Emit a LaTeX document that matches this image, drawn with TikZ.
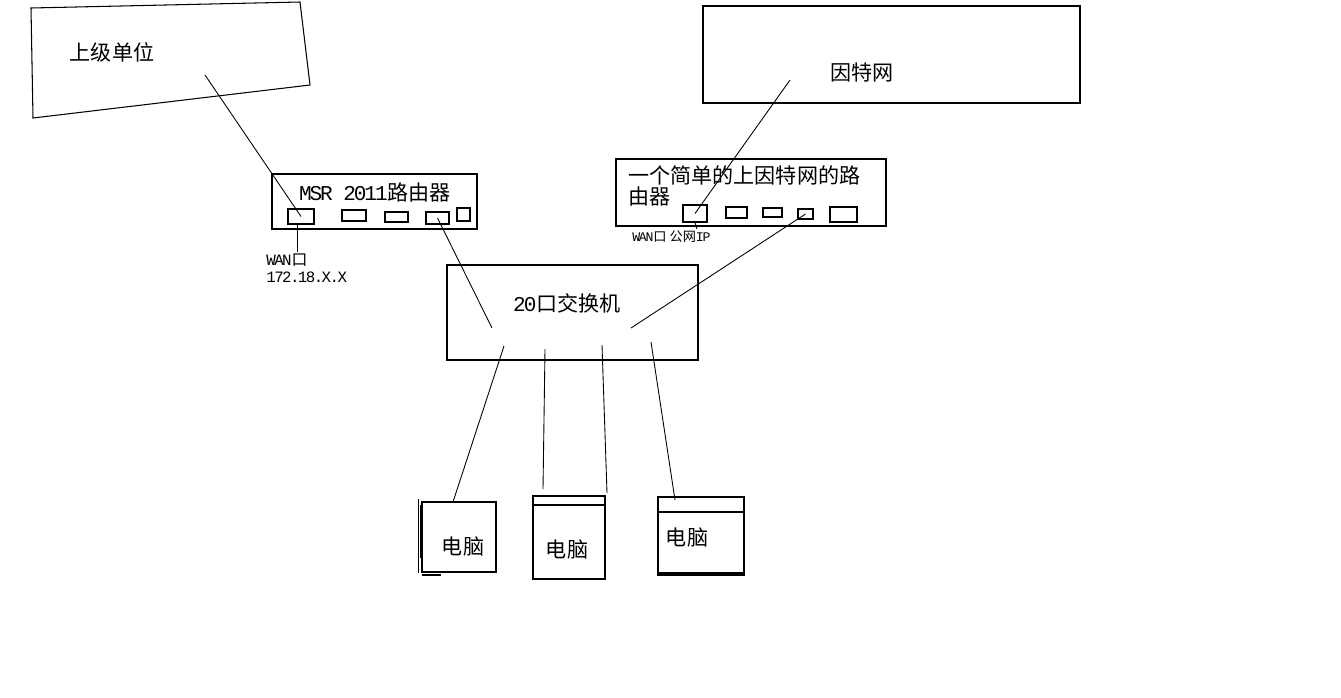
\documentclass[tikz,border=0pt]{standalone}
\usepackage{fontspec}
\setmainfont{Noto Sans CJK SC}
\newfontfamily\latmono[LetterSpace=-10]{Liberation Mono}
\usetikzlibrary{fit}
\tikzset{
  frame/.style={draw, line width=0.6pt, inner sep=0pt},
  port/.style={draw, line width=0.6pt, inner sep=0pt},
  wire/.style={line width=0.5pt},
  cnlabel/.style={font=\fontsize{12pt}{12pt}\selectfont, inner sep=0pt},
  portnote/.style={align=left, inner sep=0pt},
}

\begin{document}
\begin{tikzpicture}[x=0.02cm, y=-0.02cm]
  \useasboundingbox (0,0) rectangle (1341,697);

  % upper-level unit (tilted block)
  \coordinate (up1) at (31,8);
  \coordinate (up2) at (300,2);
  \coordinate (up3) at (310,85);
  \coordinate (up4) at (33,118);
  \draw[frame] (up1) -- (up2) -- (up3) -- (up4) -- cycle;
  \node[cnlabel] (uplbl) at (112,52) {上级单位};
  \coordinate (upend) at (205,75);

  % internet
  \node[frame, fit={(703,6) (1080,103)}] (inet) {};
  \node[cnlabel] (inetlbl) at (862,72) {因特网};
  \coordinate (inetend) at (790,80);

  % MSR router
  \node[frame, fit={(272,174) (477,229)}] (msr) {};
  \node[cnlabel] (msrlbl) at (375,192) {{\latmono MSR 2011}路由器};
  \node[port, fit={(288,209) (314,224)}] (msrp1) {};
  \node[port, fit={(342,210) (366,221)}] (msrp2) {};
  \node[port, fit={(385,212) (408,222)}] (msrp3) {};
  \node[port, fit={(426,212) (449,224)}] (msrp4) {};
  \node[port, fit={(457,208) (470,221)}] (msrp5) {};
  \coordinate (msrnote) at (297,252);
  \node[portnote, font=\fontsize{9pt}{9.6pt}\selectfont, anchor=north west] (msrwan)
    at (266,254) {{\latmono WAN}口\\{\latmono 172.18.X.X}};

  % simple internet router
  \node[frame, fit={(616,159) (886,226)}] (irt) {};
  \node[cnlabel, align=left, anchor=north west] (irtlbl) at (628,165)
    {一个简单的上因特网的路\\由器};
  \node[port, fit={(683,205) (707,222)}] (irtp1) {};
  \node[port, fit={(726,207) (747,218)}] (irtp2) {};
  \node[port, fit={(763,208) (782,217)}] (irtp3) {};
  \node[port, fit={(798,209) (813,219)}] (irtp4) {};
  \node[port, fit={(830,207) (857,222)}] (irtp5) {};
  \coordinate (irtnote) at (697,229);
  \node[portnote, font=\fontsize{7.5pt}{8pt}\selectfont, anchor=west] (irtwan)
    at (632,237) {{\latmono WAN}口 公网{\latmono IP}};

  % switch
  \node[frame, fit={(447,265) (698,360)}] (sw) {};
  \node[cnlabel] (swlbl) at (567,303) {{\latmono 20}口交换机};
  \coordinate (swmsr) at (492,328);
  \coordinate (swirt) at (631,328);
  \coordinate (swa) at (504,346);
  \coordinate (swb) at (545,349);
  \coordinate (swc) at (602,345);
  \coordinate (swd) at (651,342);

  % computers
  \node[frame, fit={(422,502) (496,572)}] (pc1) {};
  \draw[frame] (418.5,499) -- (418.5,573);
  \draw[frame] (420.5,505) -- (420.5,558);
  \draw[frame] (422,575) -- (441,575);
  \node[cnlabel] (pc1lbl) at (463,547) {电脑};
  \coordinate (pc1top) at (453,502);

  \node[frame, fit={(533,496) (605,579)}] (pc2) {};
  \draw[frame] (533,505) -- (605,505);
  \draw[line width=1.1pt] (605,505) -- (605,579);
  \node[cnlabel] (pc2lbl) at (567,550) {电脑};
  \coordinate (pc2a) at (543,489);
  \coordinate (pc2b) at (607,493);

  \node[frame, fit={(658,497) (744,575)}] (pc3) {};
  \draw[frame] (658,512) -- (744,512);
  \draw[frame] (658,573) -- (744,573);
  \node[cnlabel] (pc3lbl) at (687,538) {电脑};
  \coordinate (pc3top) at (675,500);

  % links
  \draw[wire] (upend) -- (msrp1.center);
  \draw[wire] (msrnote |- msrp1.south) -- (msrnote);
  \draw[wire] (msrp4.center) -- (swmsr);
  \draw[wire] (inetend) -- (irtp1.center);
  \draw[wire] (irtp1.south) -- (irtnote);
  \draw[wire] (irtp4.center) -- (swirt);
  \draw[wire] (swa) -- (pc1top);
  \draw[wire] (swb) -- (pc2a);
  \draw[wire] (swc) -- (pc2b);
  \draw[wire] (swd) -- (pc3top);
\end{tikzpicture}
\end{document}
